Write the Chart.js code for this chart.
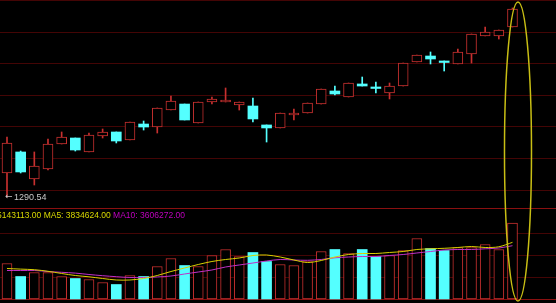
<!DOCTYPE html>
<html>
<head>
<meta charset="utf-8">
<script src="https://cdn.jsdelivr.net/npm/chart.js@4.4.1/dist/chart.umd.min.js"></script>
<style>
  html, body { margin: 0; padding: 0; background: #000; overflow: hidden; }
  canvas { display: block; }
</style>
</head>
<body>
<canvas id="myChart" width="556" height="303"></canvas>
<script>
// daily candles
const opens = [1321.0, 1347.6, 1313.4, 1326.1, 1357.7, 1365.3, 1347.6, 1367.8, 1372.9, 1362.8, 1383.0, 1379.2, 1400.7, 1408.3, 1384.3, 1410.9, 1410.9, 1407.1, 1405.8, 1381.8, 1378.0, 1394.4, 1396.9, 1408.3, 1424.8, 1417.2, 1433.7, 1429.9, 1422.3, 1431.1, 1461.5, 1469.1, 1462.8, 1459.0, 1471.6, 1494.4, 1494.4, 1505.8];
const closes = [1359.0, 1322.3, 1329.8, 1357.7, 1366.6, 1350.1, 1369.1, 1372.9, 1361.5, 1385.6, 1379.2, 1403.3, 1412.1, 1388.1, 1410.9, 1414.7, 1413.4, 1410.9, 1389.4, 1378.0, 1396.9, 1396.9, 1409.6, 1427.3, 1421.0, 1434.9, 1431.1, 1428.0, 1431.1, 1460.2, 1470.4, 1465.3, 1460.9, 1474.2, 1497.0, 1499.5, 1502.0, 1528.6];
const highs = [1366.6, 1348.8, 1347.6, 1364.0, 1372.9, 1365.3, 1371.6, 1376.7, 1372.9, 1385.6, 1386.8, 1403.3, 1418.5, 1408.3, 1410.9, 1417.2, 1428.6, 1410.9, 1415.9, 1381.8, 1396.9, 1402.0, 1409.6, 1427.3, 1431.1, 1434.9, 1442.5, 1436.2, 1434.9, 1460.2, 1470.4, 1474.2, 1462.8, 1478.0, 1497.0, 1505.8, 1502.0, 1529.9];
const lows = [1290.54, 1321.0, 1305.8, 1324.8, 1357.7, 1348.8, 1347.6, 1365.3, 1359.0, 1362.8, 1375.4, 1371.6, 1400.7, 1388.1, 1384.3, 1408.3, 1410.9, 1400.7, 1385.6, 1360.2, 1378.0, 1388.1, 1396.9, 1408.3, 1419.7, 1417.2, 1431.1, 1422.3, 1414.7, 1431.1, 1461.5, 1459.0, 1450.1, 1459.0, 1460.2, 1494.4, 1490.6, 1505.8];

// volume and its moving averages
const volumes = [2402000, 1523000, 1793000, 1793000, 1523000, 1387000, 1320000, 1117000, 981000, 1590000, 1523000, 2199000, 2741000, 2267000, 2199000, 2944000, 3350000, 2876000, 3147000, 2538000, 2335000, 2267000, 2538000, 3214000, 3350000, 3079000, 3350000, 2876000, 2944000, 3282000, 4094000, 3417000, 3282000, 3485000, 3485000, 3688000, 3350000, 5143113];
const ma5 = [2064000, 2023000, 1983000, 1875000, 1726000, 1590000, 1502000, 1387000, 1286000, 1286000, 1387000, 1590000, 1861000, 2098000, 2335000, 2538000, 2673000, 2775000, 2944000, 2978000, 2842000, 2639000, 2470000, 2605000, 2842000, 3011000, 3079000, 3079000, 3147000, 3214000, 3350000, 3397000, 3431000, 3485000, 3553000, 3485000, 3533000, 3834624];
const ma10 = [1929000, 1929000, 1929000, 1861000, 1807000, 1753000, 1658000, 1577000, 1509000, 1455000, 1455000, 1489000, 1556000, 1692000, 1827000, 1963000, 2166000, 2301000, 2436000, 2572000, 2673000, 2639000, 2619000, 2673000, 2788000, 2842000, 2876000, 2876000, 2944000, 3011000, 3113000, 3214000, 3316000, 3350000, 3350000, 3397000, 3451000, 3606272];

// grid lines
const priceTicks = [1300, 1340, 1380, 1420, 1460, 1500, 1540];
const volTicks = [0, 1500000, 3000000, 4500000, 6140000];

const UP = "#c8302f";
const DOWN = "#54ffff";

function isUp(i) {
  return closes[i] >= opens[i];
}

const bgColor = {
  id: "bgColor",
  beforeDraw: (chart) => {
    const { ctx, width, height } = chart;
    ctx.save();
    ctx.fillStyle = "#000";
    ctx.fillRect(0, 0, width, height);
    ctx.restore();
  },
};

const gridLines = {
  id: "gridLines",
  beforeDatasetsDraw: (chart) => {
    const { ctx, width } = chart;
    const yP = chart.scales.price;
    const yV = chart.scales.vol;
    ctx.save();
    ctx.lineWidth = 1;
    priceTicks.forEach((t) => {
      const y = Math.round(yP.getPixelForValue(t)) + 0.5;
      ctx.strokeStyle = "#440505";
      ctx.beginPath();
      ctx.moveTo(0, y);
      ctx.lineTo(width, y);
      ctx.stroke();
    });
    volTicks.forEach((t, i) => {
      const y = Math.round(yV.getPixelForValue(t)) + 0.5;
      const strong = i === 0 || i === volTicks.length - 1;
      ctx.strokeStyle = strong ? "#8a1010" : "#440505";
      ctx.beginPath();
      ctx.moveTo(0, y);
      ctx.lineTo(width, y);
      ctx.stroke();
    });
    ctx.restore();
  },
};

const labels = {
  id: "labels",
  afterDatasetsDraw: (chart) => {
    const { ctx } = chart;
    const x = chart.scales.x;
    const yP = chart.scales.price;
    const yV = chart.scales.vol;
    const last = volumes.length - 1;
    ctx.save();
    ctx.textBaseline = "middle";

    // lowest price marker
    ctx.font = "9px 'DejaVu Sans', sans-serif";
    ctx.fillStyle = "#c8c8c8";
    const lx = x.getPixelForValue(0) - 2;
    const ly = yP.getPixelForValue(lows[0]);
    ctx.fillText("\u2190", lx, ly);
    ctx.font = "9px 'Liberation Sans', Arial, sans-serif";
    ctx.fillText(lows[0].toFixed(2), lx + 9, ly);

    // volume readout
    ctx.font = "8.5px 'Liberation Sans', Arial, sans-serif";
    const ty = yV.getPixelForValue(volTicks[volTicks.length - 1]) + 7;
    let tx = -3;
    const part1 = volumes[last].toFixed(2) + " MA5: " + ma5[last].toFixed(2) + " ";
    ctx.fillStyle = "#d8d800";
    ctx.fillText(part1, tx, ty);
    tx += ctx.measureText(part1).width;
    ctx.fillStyle = "#c000c0";
    ctx.fillText("MA10: " + ma10[last].toFixed(2), tx, ty);

    // highlight ellipse round the last session
    const cx = x.getPixelForValue(last) + 5.5;
    ctx.strokeStyle = "#c8be14";
    ctx.lineWidth = 1.5;
    ctx.beginPath();
    ctx.ellipse(cx, 151.5, 13.5, 149.5, 0, 0, Math.PI * 2);
    ctx.stroke();
    ctx.restore();
  },
};

const ctx = document.getElementById("myChart");

new Chart(ctx, {
  type: "bar",
  data: {
    datasets: [
      {
        label: "MA5",
        type: "line",
        yAxisID: "vol",
        data: ma5.map((v, i) => ({ x: i, y: v })),
        borderColor: "#d8d000",
        borderWidth: 1,
        pointRadius: 0,
        tension: 0.3,
        order: 0,
      },
      {
        label: "MA10",
        type: "line",
        yAxisID: "vol",
        data: ma10.map((v, i) => ({ x: i, y: v })),
        borderColor: "#c030c8",
        borderWidth: 1,
        pointRadius: 0,
        tension: 0.3,
        order: 0,
      },
      {
        label: "Body",
        yAxisID: "price",
        data: opens.map((o, i) => ({ x: i, y: [o, closes[i]] })),
        backgroundColor: (c) => (isUp(c.dataIndex) ? "#000" : DOWN),
        borderColor: (c) => (isUp(c.dataIndex) ? UP : DOWN),
        borderWidth: (c) => (isUp(c.dataIndex) ? 1 : 0),
        borderSkipped: false,
        barThickness: 10,
        grouped: false,
        order: 1,
      },
      {
        label: "Wick",
        yAxisID: "price",
        data: lows.map((l, i) => ({ x: i, y: [l, highs[i]] })),
        backgroundColor: (c) => (isUp(c.dataIndex) ? UP : DOWN),
        borderWidth: 0,
        barThickness: 1,
        grouped: false,
        order: 2,
      },
      {
        label: "Volume",
        yAxisID: "vol",
        data: volumes.map((v, i) => ({ x: i, y: v })),
        backgroundColor: (c) => (isUp(c.dataIndex) ? "#000" : DOWN),
        borderColor: (c) => (isUp(c.dataIndex) ? UP : DOWN),
        borderWidth: (c) => (isUp(c.dataIndex) ? 1 : 0),
        borderSkipped: false,
        barThickness: 10,
        grouped: false,
        order: 1,
      },
    ],
  },
  options: {
    responsive: false,
    maintainAspectRatio: false,
    animation: false,
    layout: { padding: 0 },
    plugins: {
      legend: { display: false },
      tooltip: { enabled: false },
    },
    scales: {
      x: {
        type: "linear",
        display: false,
        offset: false,
        min: -0.512,
        max: 40.185,
      },
      price: {
        type: "linear",
        display: false,
        min: 1156.4,
        max: 1540,
      },
      vol: {
        type: "linear",
        display: false,
        min: -270692,
        max: 20234227,
      },
    },
  },
  plugins: [bgColor, gridLines, labels],
});
</script>
</body>
</html>
